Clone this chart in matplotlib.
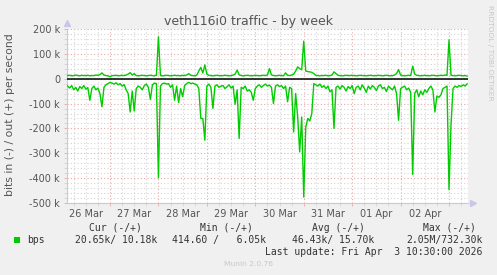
#!/usr/bin/env python3
"""Munin-style weekly traffic graph for veth116i0."""

import matplotlib
matplotlib.use("Agg")
import matplotlib.pyplot as plt
import numpy as np

# ---------------------------------------------------------------------------
# hourly samples, hours since 26 Mar 00:00
HOURS = np.arange(3, 202)

# out (+) in kbit/s
OUT_K = [
    12, 13, 11, 12, 14, 12, 11, 13, 12, 12,
    13, 11, 12, 12, 14, 13, 16, 23, 14, 12,
    11, 7, 12, 12, 13, 11, 12, 13, 12, 14,
    18, 24, 14, 20, 12, 11, 12, 13, 12, 11,
    12, 13, 12, 11, 13, 167, 12, 11, 12, 13,
    12, 11, 12, 13, 12, 12, 11, 13, 12, 14,
    20, 13, 12, 11, 14, 30, 45, 22, 55, 18,
    13, 12, 11, 12, 13, 12, 11, 12, 13, 12,
    11, 12, 14, 18, 34, 15, 12, 11, 12, 13,
    12, 11, 12, 13, 12, 11, 12, 13, 12, 14,
    40, 15, 12, 11, 12, 13, 12, 11, 23, 13,
    12, 14, 18, 30, 47, 40, 35, 150, 30, 28,
    27, 25, 20, 13, 12, 11, 12, 12, 13, 11,
    12, 14, 27, 20, 13, 12, 11, 12, 13, 12,
    12, 13, 12, 11, 12, 13, 12, 12, 11, 12,
    13, 12, 11, 12, 13, 12, 11, 12, 13, 12,
    11, 12, 14, 20, 36, 14, 12, 11, 12, 13,
    12, 50, 18, 13, 12, 11, 12, 13, 12, 11,
    12, 13, 12, 11, 12, 13, 12, 14, 13, 155,
    13, 12, 11, 12, 13, 12, 11, 12, 10,
]

# in (-) in kbit/s, drawn below zero
IN_K = [
    30, 38, 28, 45, 35, 50, 32, 40, 28, 42,
    36, 87, 40, 30, 45, 38, 60, 113, 35, 25,
    20, 15, 18, 22, 17, 25, 20, 30, 24, 45,
    60, 134, 50, 130, 40, 30, 35, 45, 28, 22,
    35, 84, 25, 18, 20, 397, 30, 20, 18, 22,
    20, 35, 25, 87, 30, 96, 40, 73, 28, 20,
    15, 20, 18, 22, 25, 40, 160, 160, 247, 30,
    22, 35, 120, 30, 25, 35, 30, 28, 40, 33,
    25, 38, 30, 103, 45, 240, 35, 40, 30, 50,
    45, 55, 87, 40, 30, 25, 35, 28, 22, 30,
    26, 35, 100, 30, 25, 32, 28, 40, 30, 93,
    35, 40, 214, 60, 154, 294, 154, 475, 195, 160,
    170, 140, 20, 25, 30, 22, 35, 28, 40, 30,
    53, 45, 200, 35, 30, 42, 28, 35, 50, 32,
    40, 28, 60, 35, 30, 45, 25, 38, 55, 30,
    42, 28, 35, 48, 30, 25, 40, 35, 52, 30,
    38, 45, 30, 60, 167, 40, 35, 30, 45, 38,
    55, 384, 60, 45, 73, 50, 65, 45, 55, 40,
    30, 45, 134, 70, 75, 65, 40, 35, 30, 445,
    183, 40, 30, 35, 28, 32, 25, 30, 21,
]

DAY_LABELS = ["26 Mar", "27 Mar", "28 Mar", "29 Mar", "30 Mar",
              "31 Mar", "01 Apr", "02 Apr"]
Y_TICKS = [200, 100, 0, -100, -200, -300, -400, -500]
Y_LABELS = ["200 k", "100 k", "0", "-100 k", "-200 k", "-300 k",
            "-400 k", "-500 k"]

LEGEND_HEAD = ["Cur (-/+)", "Min (-/+)", "Avg (-/+)", "Max (-/+)"]
LEGEND_VALS = ["20.65k/ 10.18k", "414.60 /   6.05k", "46.43k/ 15.70k",
               "2.05M/732.30k"]

# ---------------------------------------------------------------------------
W, H = 497, 275
BG = "#F0F0F0"
GREEN = "#00CC00"
MGRID = "#E8A8A8"
GRID = "#D4D4D4"
AXIS = "#C8C8E6"
TXT = "#555555"

fig = plt.figure(figsize=(W / 100, H / 100), dpi=100, facecolor=BG)
ax = fig.add_axes([67 / W, (H - 203.3) / H, 401 / W, 174.6 / H])
ax.set_facecolor("white")

days = HOURS / 24.0
ax.plot(days, OUT_K, color=GREEN, lw=1.0, zorder=3)
ax.plot(days, -np.array(IN_K), color=GREEN, lw=1.0, zorder=3)
ax.axhline(0, color="black", lw=1.1, zorder=4)

ax.set_xlim(0.112, 8.392)
ax.set_ylim(-500, 200)

# grid: minor every 6 h / 20 k, major at midnight / 100 k
ax.set_xticks(np.arange(1, 9), minor=False)
ax.set_xticks(np.arange(0.25, 8.4, 0.25), minor=True)
ax.set_yticks(Y_TICKS)
ax.set_yticklabels(Y_LABELS)
ax.set_yticks(np.arange(-500, 201, 20), minor=True)
ax.set_xticklabels([])
ax.grid(which="minor", color=GRID, lw=0.8, ls=(0, (1, 2)), zorder=1)
ax.grid(which="major", color=MGRID, lw=0.8, ls=(0, (1, 2)), zorder=2)
ax.tick_params(which="both", length=2, width=0.6, color=MGRID,
               labelsize=7, labelcolor=TXT, pad=3)
ax.tick_params(which="minor", color=GRID)

for i, lab in enumerate(DAY_LABELS):
    ax.text(i + 0.5, -0.035, lab, transform=ax.get_xaxis_transform(),
            ha="center", va="top", fontsize=7, color=TXT)

for s in ("top", "right"):
    ax.spines[s].set_visible(False)
for s in ("left", "bottom"):
    ax.spines[s].set_color(AXIS)
    ax.spines[s].set_linewidth(0.8)

# axis arrows
ax.plot([0], [1.035], marker="^", ms=5, color=AXIS, mec=AXIS,
        transform=ax.transAxes, clip_on=False)
ax.plot([1.012], [0], marker=">", ms=5, color=AXIS, mec=AXIS,
        transform=ax.transAxes, clip_on=False)

# titles and labels
fig.text(0.5, 1 - 24.5 / H, "veth116i0 traffic - by week", ha="center",
         va="baseline", fontsize=9, color=TXT)
fig.text(10.5 / W, 1 - 115 / H, "bits in (-) / out (+) per second",
         rotation=90, ha="center", va="center", fontsize=7.8, color=TXT)
fig.text(490 / W, 1 - 5 / H, "RRDTOOL / TOBI OETIKER", rotation=270,
         ha="center", va="top", fontsize=5.4, color="#C8C8C8")

# legend block
MONO = "DejaVu Sans Mono"
LTXT = "#333333"
fig.patches.append(plt.Rectangle((14 / W, 1 - 243 / H), 6 / W, 6 / H,
                                 transform=fig.transFigure,
                                 facecolor=GREEN, edgecolor="none"))
fig.text(26.7 / W, 1 - 239.7 / H, "bps", ha="left", va="center",
         fontsize=7, family=MONO, color=LTXT)
for x, t in zip([89.3, 200.3, 311.7, 422.7], LEGEND_HEAD):
    fig.text(x / W, 1 - 228 / H, t, ha="left", va="center",
             fontsize=7, family=MONO, color=LTXT)
for x, t in zip([157.7, 265.7, 374.0, 482.3], LEGEND_VALS):
    fig.text(x / W, 1 - 239.7 / H, t, ha="right", va="center",
             fontsize=7, family=MONO, color=LTXT)
fig.text(482.3 / W, 1 - 252 / H, "Last update: Fri Apr  3 10:30:00 2026",
         ha="right", va="center", fontsize=7, family=MONO, color=LTXT)
fig.text(248 / W, 1 - 264 / H, "Munin 2.0.76", ha="center", va="center",
         fontsize=5.4, color="#C8C8C8")

fig.savefig("out.png", dpi=100, facecolor=BG)
